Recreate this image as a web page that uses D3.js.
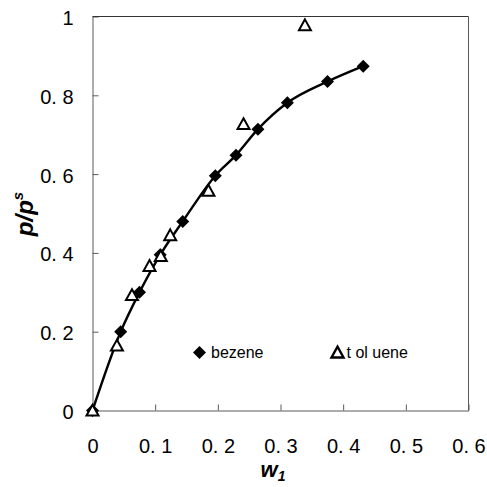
<!DOCTYPE html>
<html>
<head>
<meta charset="utf-8">
<script src="https://cdn.jsdelivr.net/npm/d3@7"></script>
<style>
  html, body { margin: 0; padding: 0; background: #fff; }
  svg { display: block; }
  text { font-family: "Liberation Sans", Arial, sans-serif; fill: #000; }
</style>
</head>
<body>
<svg id="chart" width="487" height="487"></svg>
<script>
// Benzene measurements (mass fraction w1 vs relative pressure p/ps)
const benzeneW = [0, 0.045, 0.075, 0.108, 0.144, 0.196, 0.229, 0.264, 0.311, 0.375, 0.432];
const benzeneP = [0, 0.200, 0.300, 0.395, 0.480, 0.596, 0.648, 0.714, 0.781, 0.835, 0.874];

// Toluene measurements
const tolueneW = [0, 0.039, 0.063, 0.091, 0.109, 0.124, 0.185, 0.241, 0.339];
const tolueneP = [0, 0.165, 0.293, 0.367, 0.392, 0.445, 0.558, 0.727, 0.978];

// Axis ticks and their printed labels
const xTickValues = [0, 0.1, 0.2, 0.3, 0.4, 0.5, 0.6];
const xTickLabels = ["0", "0. 1", "0. 2", "0. 3", "0. 4", "0. 5", "0. 6"];
const yTickValues = [0, 0.2, 0.4, 0.6, 0.8, 1];
const yTickLabels = ["0", "0. 2", "0. 4", "0. 6", "0. 8", "1"];

const legendNames = ["bezene", "t ol uene"];

const svg = d3.select("#chart");

const x = d3.scaleLinear().domain([0, 0.6]).range([92.5, 468.5]);
const y = d3.scaleLinear().domain([0, 1]).range([410.5, 16.5]);

const frameColor = "#5a5a5a";

// Bottom axis, ticks pointing into the plot
const xAxis = svg.append("g")
  .attr("transform", `translate(0,${y(0)})`)
  .call(d3.axisBottom(x)
    .tickValues(xTickValues)
    .tickFormat((d, i) => xTickLabels[i])
    .tickSizeInner(-6)
    .tickSizeOuter(0)
    .tickPadding(28));
xAxis.selectAll("path, line").attr("stroke", frameColor);
xAxis.selectAll("text").attr("font-size", 20).attr("font-family", "Liberation Sans, Arial, sans-serif");

// Left axis, ticks pointing into the plot
const yAxis = svg.append("g")
  .attr("transform", `translate(${x(0)},0)`)
  .call(d3.axisLeft(y)
    .tickValues(yTickValues)
    .tickFormat((d, i) => yTickLabels[i])
    .tickSizeInner(-6)
    .tickSizeOuter(0)
    .tickPadding(19));
yAxis.selectAll("path, line").attr("stroke", frameColor);
yAxis.selectAll("text").attr("font-size", 20).attr("dy", "0.4em")
  .attr("font-family", "Liberation Sans, Arial, sans-serif");

// Top and right border of the plot box
svg.append("line")
  .attr("x1", x(0)).attr("x2", x(0.6)).attr("y1", y(1)).attr("y2", y(1))
  .attr("stroke", "#333").attr("stroke-width", 1.2);
svg.append("line")
  .attr("x1", x(0.6)).attr("x2", x(0.6)).attr("y1", y(1)).attr("y2", y(0))
  .attr("stroke", frameColor);

// Smooth curve through the benzene series
const benzene = benzeneW.map((w, i) => ({ w, p: benzeneP[i] }));
const toluene = tolueneW.map((w, i) => ({ w, p: tolueneP[i] }));

svg.append("path")
  .datum(benzene)
  .attr("fill", "none")
  .attr("stroke", "#000")
  .attr("stroke-width", 2.4)
  .attr("d", d3.line().x(d => x(d.w)).y(d => y(d.p)).curve(d3.curveMonotoneX));

const diamondPath = "M0,-6.5L6.5,0L0,6.5L-6.5,0Z";
const trianglePath = "M0,-5.8L6,5L-6,5Z";

svg.append("g").selectAll("path")
  .data(benzene)
  .join("path")
  .attr("transform", d => `translate(${x(d.w)},${y(d.p)})`)
  .attr("d", diamondPath)
  .attr("fill", "#000");

svg.append("g").selectAll("path")
  .data(toluene)
  .join("path")
  .attr("transform", d => `translate(${x(d.w)},${y(d.p)})`)
  .attr("d", trianglePath)
  .attr("fill", "#fff")
  .attr("stroke", "#000")
  .attr("stroke-width", 2)
  .attr("stroke-linejoin", "miter");

// Legend
const legend = svg.append("g");
legend.append("path")
  .attr("transform", "translate(199.5,352.5)")
  .attr("d", diamondPath).attr("fill", "#000");
legend.append("text")
  .attr("x", 211).attr("y", 358)
  .attr("font-size", 16)
  .text(legendNames[0]);
legend.append("path")
  .attr("transform", "translate(337.5,352.5)")
  .attr("d", trianglePath)
  .attr("fill", "#fff").attr("stroke", "#000").attr("stroke-width", 2.4);
legend.append("text")
  .attr("x", 346.5).attr("y", 358)
  .attr("font-size", 16)
  .text(legendNames[1]);

// Axis titles
const xTitle = svg.append("text")
  .attr("x", 273).attr("y", 477)
  .attr("text-anchor", "middle")
  .attr("font-size", 22).attr("font-weight", "bold").attr("font-style", "italic");
xTitle.append("tspan").text("w");
xTitle.append("tspan").attr("font-size", 14).attr("dy", 4).text("1");

const yTitle = svg.append("text")
  .attr("transform", "translate(33,214) rotate(-90)")
  .attr("text-anchor", "middle")
  .attr("font-size", 24).attr("font-weight", "bold").attr("font-style", "italic");
yTitle.append("tspan").text("p/p");
yTitle.append("tspan").attr("font-size", 15).attr("dy", -10).text("s");
</script>
</body>
</html>
